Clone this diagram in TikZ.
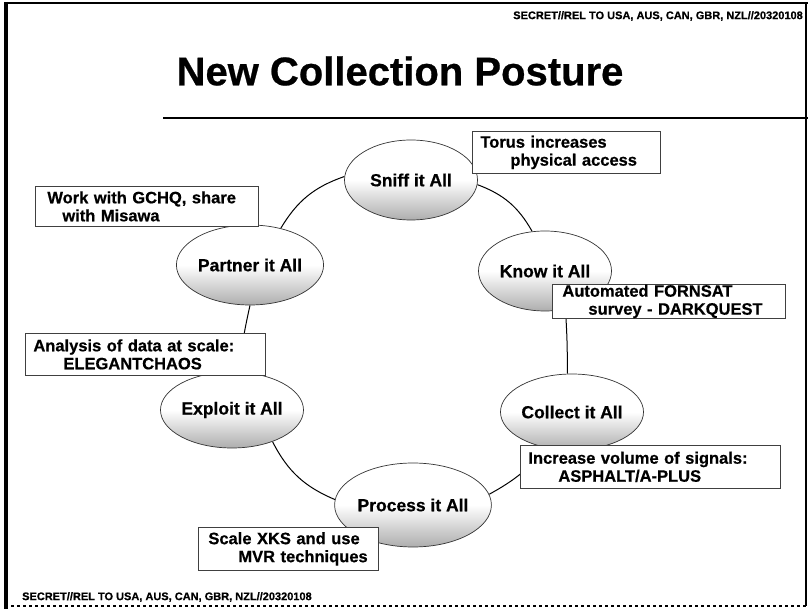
\documentclass[tikz,border=0pt]{standalone}
\usepackage{fontspec}
\setmainfont{Liberation Sans}[BoldFeatures={FakeBold=0.6}]
\usetikzlibrary{shapes.geometric,backgrounds}
\pgfdeclareverticalshading{ellfill}{100bp}{color(0bp)=(black!32); color(25bp)=(black!32); color(36bp)=(black!18); color(50bp)=(white); color(100bp)=(white)}
\newcommand{\stagefont}{\fontsize{17.5}{20}\selectfont\bfseries}
\newcommand{\notefont}{\fontsize{16.5}{18}\selectfont\bfseries}
\newcommand{\classfont}{\fontsize{11}{12}\selectfont\bfseries}
\tikzset{
  stage/.style={ellipse, draw=black!80, line width=0.7pt, shade, shading=ellfill,
    inner sep=0pt, minimum width=133pt, minimum height=80pt, font=\stagefont},
  note/.style={rectangle, draw=black!75, line width=0.8pt, fill=white,
    anchor=north west, align=left, inner ysep=0pt, font=\notefont},
  link/.style={draw=black, line width=1pt},
  frameline/.style={draw=black, line width=1.5pt},
}
\begin{document}
\begin{tikzpicture}[x=1pt,y=-1pt]
\useasboundingbox (0,0) rectangle (808,609);
% frame
\draw[frameline] (5,3) -- (808,3);
\draw[frameline] (806,3) -- (806,606);
\draw[frameline, dashed] (5,606) -- (806,606);
\draw[draw=black, line width=4pt] (6,2) -- (6,609);
% classification
\node[anchor=east, font=\classfont, inner sep=0pt] (cltop) at (803,16) {SECRET//REL TO USA, AUS, CAN, GBR, NZL//20320108};
\node[anchor=west, font=\classfont, inner sep=0pt] (clbot) at (22,597) {SECRET//REL TO USA, AUS, CAN, GBR, NZL//20320108};
% title
\node[font=\fontsize{40}{44}\selectfont\bfseries, inner sep=0pt] (title) at (400,71) {New Collection Posture};
\draw[line width=2.5pt] (163,118) -- (808,118);
% stages
\node[stage] (sniff) at (411,180) {Sniff it All};
\node[stage] (partner) at (250,265) {Partner it All};
\node[stage] (know) at (545,271) {Know it All};
\node[stage, minimum width=135pt, minimum height=76pt] (exploit) at (232,410) {Exploit it All};
\node[stage, minimum width=135pt, minimum height=76pt] (collect) at (572,412) {Collect it All};
\node[stage, minimum height=84pt] (process) at (413,505) {Process it All};
% connectors
\begin{pgfonlayer}{background}
\draw[link] (sniff.177) to[bend right=20] (partner.50);
\draw[link] (partner.270) to[bend right=3] (exploit.80);
\draw[link] (exploit.322) to[bend right=20] (process.176);
\draw[link] (process.8) to[bend right=10] (collect.235);
\draw[link] (collect.97) to[bend right=2] (know.298);
\draw[link] (know.108) to[bend right=20] (sniff.356);
\end{pgfonlayer}
% notes
\node[note, inner xsep=8pt, text width=172pt, minimum height=42pt] (torus) at (472,131) {Torus increases\\\hspace*{30pt}physical access};
\node[note, inner xsep=12pt, text width=199pt, minimum height=40pt] (gchq) at (35,186) {Work with GCHQ, share\\\hspace*{15pt}with Misawa};
\node[note, inner xsep=10pt, text width=213pt, minimum height=34pt] (fornsat) at (552,284) {Automated FORNSAT\\\hspace*{26pt}survey - DARKQUEST};
\node[note, inner xsep=8pt, text width=224pt, minimum height=42pt] (chaos) at (25,333) {Analysis of data at scale:\\\hspace*{30pt}ELEGANTCHAOS};
\node[note, inner xsep=8pt, text width=244pt, minimum height=43pt] (signals) at (520,445) {Increase volume of signals:\\\hspace*{30pt}ASPHALT/A-PLUS};
\node[note, inner xsep=10pt, text width=160pt, minimum height=43pt] (xks) at (198,527) {Scale XKS and use\\\hspace*{30pt}MVR techniques};
\end{tikzpicture}
\end{document}
